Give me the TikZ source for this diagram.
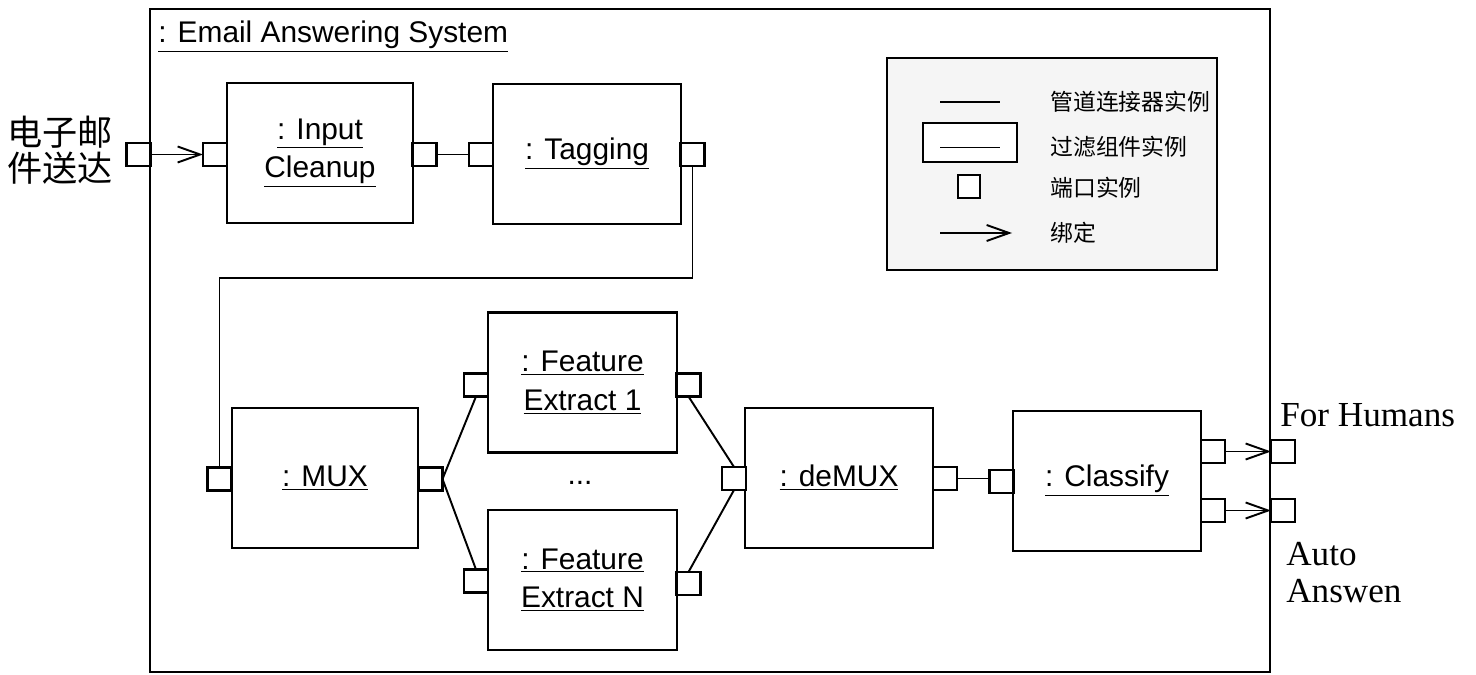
\documentclass[tikz,border=0pt]{standalone}
\usepackage{fontspec}
\setmainfont{Liberation Serif}
\setsansfont{Liberation Sans}
\newfontfamily\cjk{Noto Sans CJK SC}
\usetikzlibrary{arrows.meta}
\tikzset{
  comp/.style={draw, line width=1.5pt, fill=white, inner sep=0pt, outer sep=0pt,
    minimum width=#1*0.02cm, minimum height=2.8cm, align=center,
    font=\sffamily\fontsize{17}{20}\selectfont},
  comp/.default=188,
  port/.style={draw, line width=1.3pt, fill=white, inner sep=0pt, outer sep=0pt,
    minimum width=0.48cm, minimum height=0.46cm},
  conn/.style={line width=1.1pt},
  bind/.style={line width=1.1pt, -{Straight Barb[length=0.45cm,width=0.32cm,line width=1.1pt]}},
  cjklabel/.style={font=\cjk\fontsize{20}{20.4}\selectfont, align=center, inner sep=0pt},
  legtext/.style={font=\cjk\fontsize{13}{14}\selectfont, anchor=west, inner sep=0pt},
}
\begin{document}
\begin{tikzpicture}[x=0.02cm,y=-0.02cm]
\useasboundingbox (0,0) rectangle (1476,675);
% outer frame
\node[draw, line width=1.5pt, inner sep=0pt, outer sep=0pt, minimum width=22.4cm, minimum height=13.26cm] (sys) at (710,340.5) {};
\node[anchor=west, inner sep=0pt, font=\sffamily\fontsize{17}{20}\selectfont] (sysname) at (158,37) {\underline{: Email Answering System}};

% legend
\node[draw, line width=1.2pt, fill=gray!8, inner sep=0pt, outer sep=0pt, minimum width=6.6cm, minimum height=4.24cm] (legend) at (1052,164) {};
\coordinate (l1a) at (940,102); \coordinate (l1b) at (1000,102);
\draw[line width=1.6pt] (l1a) -- (l1b);
\node[draw, line width=1.3pt, fill=white, inner sep=0pt, minimum width=1.88cm, minimum height=0.78cm] (lrect) at (970,142.5) {};
\coordinate (l2a) at (940,147); \coordinate (l2b) at (1000,147);
\draw[line width=0.5pt] (l2a) -- (l2b);
\node[port, minimum width=0.44cm] (lport) at (969,186.5) {};
\coordinate (l4a) at (940,233); \coordinate (l4b) at (1012,233);
\draw[bind] (l4a) -- (l4b);
\node[legtext] (t1) at (1050,102) {管道连接器实例};
\node[legtext] (t2) at (1050,147) {过滤组件实例};
\node[legtext] (t3) at (1050,188) {端口实例};
\node[legtext] (t4) at (1050,233) {绑定};

% components
\node[comp=186] (ic) at (320,153) {\underline{: Input}\\[2pt]\underline{Cleanup}};
\node[comp=188] (tag) at (587,154) {\underline{: Tagging}};
\node[comp=186] (mux) at (325,478) {\underline{: MUX}};
\node[comp=189] (fe1) at (582.5,382.5) {\underline{: Feature}\\[2pt]\underline{Extract 1}};
\node[comp=189] (feN) at (582.5,580) {\underline{: Feature}\\[2pt]\underline{Extract N}};
\node[comp=188] (dm) at (839,478) {\underline{: deMUX}};
\node[comp=188] (cl) at (1107,481) {\underline{: Classify}};
\node[inner sep=0pt, font=\sffamily\fontsize{17}{20}\selectfont] (dots) at (580,483) {...};

% ports
\node[port] (pin) at (138.5,154.5) {};
\node[port] (icL) at (215,154.5) {};
\node[port] (icR) at (424.5,154.5) {};
\node[port] (tagL) at (481,154.5) {};
\node[port] (tagR) at (692.5,154.5) {};
\node[port] (muxL) at (219.5,479) {};
\node[port] (muxR) at (430.5,479) {};
\node[port] (fe1L) at (476,385) {};
\node[port] (fe1R) at (688.5,385) {};
\node[port] (feNL) at (476,581) {};
\node[port] (feNR) at (688.5,583.5) {};
\node[port] (dmL) at (734,478.5) {};
\node[port] (dmR) at (945,478.5) {};
\node[port] (clL) at (1001.5,481.5) {};
\node[port] (clR1) at (1213,451.5) {};
\node[port] (clR2) at (1213,510.5) {};
\node[port] (out1) at (1283,451.5) {};
\node[port] (out2) at (1283,510.5) {};

% connectors
\draw[bind] (pin.east) -- (icL.west);
\draw[conn] (icR.east) -- (tagL.west);
\draw[conn] (tagR.south) -- ++(0,112) -| (muxL.north);
\draw[conn] (muxR.east) -- (fe1L.south);
\draw[conn] (muxR.east) -- (feNL.north);
\draw[conn] (fe1R.south) -- (dmL.north);
\draw[conn] (feNR.north) -- (dmL.south);
\draw[conn] (dmR.east) -- (dmR.east -| clL.west);
\draw[bind] (clR1.east) -- (out1.west);
\draw[bind] (clR2.east) -- (out2.west);

% external labels
\node[cjklabel] (inlabel) at (60,150) {电子邮\\件送达};
\node[anchor=west, inner sep=0pt, font=\fontsize{20}{21}\selectfont] (hum) at (1280,415) {For Humans};
\node[anchor=west, inner sep=0pt, align=left, font=\fontsize{20}{21}\selectfont] (auto) at (1286,573) {Auto\\Answen};
\end{tikzpicture}
\end{document}
